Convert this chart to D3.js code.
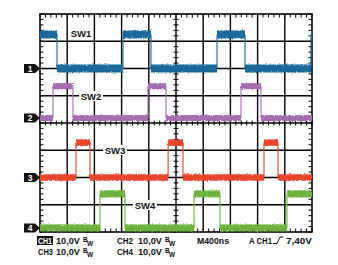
<!DOCTYPE html>
<html><head><meta charset="utf-8">
<script src="https://cdn.jsdelivr.net/npm/d3@7"></script>
<style>
html,body{margin:0;padding:0;background:#fff;}
svg{display:block;}
text{font-family:"Liberation Sans",Arial,sans-serif;font-weight:bold;}
</style></head>
<body>
<svg id="c" width="338" height="265"></svg>
<script>
// ---- data ----
const channelNames = ["SW1", "SW2", "SW3", "SW4"];
const channelNumbers = ["1", "2", "3", "4"];
const channelColors = ["#1b6b9b", "#a66db4", "#e8452c", "#6cb43f"];
const channelOffsetDiv = [2.0, 0.18, -2.0, -3.85];   // ground marker position (divisions)
const voltsPerDiv = [10, 10, 10, 10];
// waveform steps: [time ns, level V]
const sw1 = [[0, 12.5], [250, 0], [1220, 12.5], [1632, 0], [2603, 12.5], [3015, 0], [3985, 12.5]];
const sw2 = [[0, 0], [191, 11.7], [485, 0], [1588, 11.7], [1853, 0], [2956, 11.7], [3250, 0]];
const sw3 = [[0, 0], [529, 12.8], [735, 0], [1885, 12.8], [2103, 0], [3294, 12.8], [3500, 0]];
const sw4 = [[0, 0], [882, 12.5], [1250, 0], [2265, 12.5], [2647, 0], [3632, 12.5]];
const series = [sw1, sw2, sw3, sw4];
const timeDomain = [0, 4000];      // 10 div x 400 ns
const divDomain = [-4, 4];
const bottomLine1 = ["10,0V", "CH2", "10,0V", "M400ns", "A CH1", "7,40V"];
const bottomLine2 = ["CH3", "10,0V", "CH4", "10,0V"];

// ---- drawing ----
const svg = d3.select("#c");
const defs = svg.append("defs");
const f = defs.append("filter").attr("id", "fuzz").attr("x", "-2%").attr("y", "-60%").attr("width", "104%").attr("height", "220%");
f.append("feTurbulence").attr("type", "fractalNoise").attr("baseFrequency", "1.2 0.6").attr("numOctaves", 1).attr("seed", 4).attr("result", "n");
f.append("feDisplacementMap").attr("in", "SourceGraphic").attr("in2", "n").attr("scale", 3)
  .attr("xChannelSelector", "R").attr("yChannelSelector", "G");

const L = 40, R = 312, T = 14, B = 232;
const x = d3.scaleLinear().domain(timeDomain).range([L, R]);
const y = d3.scaleLinear().domain(divDomain).range([B, T]);

const g = svg.append("g");
// grid
const vDivs = d3.range(1, 10).map(i => timeDomain[0] + i * 400);
const hDivs = d3.range(-3, 4);
g.selectAll(".vg").data(vDivs).join("line")
  .attr("x1", d => x(d)).attr("x2", d => x(d)).attr("y1", T).attr("y2", B)
  .attr("stroke", "#000").attr("stroke-width", 1.4);
g.selectAll(".hg").data(hDivs).join("line")
  .attr("x1", L).attr("x2", R).attr("y1", d => y(d)).attr("y2", d => y(d))
  .attr("stroke", "#000").attr("stroke-width", 1.4);

// minor ticks
const tMinor = d3.range(0, 4001, 80);
const vMinor = d3.range(-4, 4.01, 0.2);
const tk = svg.append("g").attr("stroke", "#000").attr("stroke-width", 1);
tMinor.forEach(t => {
  tk.append("line").attr("x1", x(t)).attr("x2", x(t)).attr("y1", T).attr("y2", T + 3.5);
  tk.append("line").attr("x1", x(t)).attr("x2", x(t)).attr("y1", B).attr("y2", B - 3.5);
  tk.append("line").attr("x1", x(t)).attr("x2", x(t)).attr("y1", y(0) - 2.5).attr("y2", y(0) + 2.5);
});
vMinor.forEach(v => {
  tk.append("line").attr("x1", L).attr("x2", L + 3.5).attr("y1", y(v)).attr("y2", y(v));
  tk.append("line").attr("x1", R).attr("x2", R - 3.5).attr("y1", y(v)).attr("y2", y(v));
  tk.append("line").attr("x1", x(2000) - 2.5).attr("x2", x(2000) + 2.5).attr("y1", y(v)).attr("y2", y(v));
});
// border
svg.append("rect").attr("x", L).attr("y", T).attr("width", R - L).attr("height", B - T)
  .attr("fill", "none").attr("stroke", "#000").attr("stroke-width", 1.6);

// labels (white backgrounds over grid)
const labelPos = [[81, 33], [91, 96], [115, 150], [145, 205]];
channelNames.forEach((n, i) => {
  const [lx, ly] = labelPos[i];
  svg.append("rect").attr("x", lx - 12).attr("y", ly - 5).attr("width", 24).attr("height", 10).attr("fill", "#fff");
  svg.append("text").attr("x", lx).attr("y", ly + 3.5).attr("text-anchor", "middle")
    .attr("font-size", 9.5).attr("fill", "#111").text(n);
});

// traces
const bandW = [8, 6, 6.5, 7];
series.forEach((s, i) => {
  const col = channelColors[i];
  const lv = v => y(channelOffsetDiv[i] + v / voltsPerDiv[i]);
  const tg = svg.append("g");
  // transitions
  for (let k = 1; k < s.length; k++) {
    tg.append("line").attr("x1", x(s[k][0])).attr("x2", x(s[k][0]))
      .attr("y1", lv(s[k - 1][1])).attr("y2", lv(s[k][1]))
      .attr("stroke", col).attr("stroke-width", 1.6).attr("opacity", 0.7);
  }
  // levels
  const lg = tg.append("g").attr("filter", "url(#fuzz)");
  s.forEach((p, k) => {
    const t0 = p[0], t1 = k + 1 < s.length ? s[k + 1][0] : timeDomain[1];
    lg.append("rect").attr("x", x(t0)).attr("width", x(t1) - x(t0))
      .attr("y", lv(p[1]) - bandW[i] / 2).attr("height", bandW[i])
      .attr("fill", col);
  });
  // marker
  const my = y(channelOffsetDiv[i]);
  svg.append("path")
    .attr("d", `M24,${my - 4.5}H35L40,${my}L35,${my + 4.5}H24Z`).attr("fill", "#111");
  svg.append("text").attr("x", 30).attr("y", my + 3.3).attr("text-anchor", "middle")
    .attr("font-size", 8.5).attr("fill", "#fff").text(channelNumbers[i]);
});

// bottom info
const fs = 9;
const info = svg.append("g").attr("font-size", fs).attr("fill", "#111");
function vbw(xp, yp, txt) {
  info.append("text").attr("x", xp).attr("y", yp).attr("textLength", 24).attr("lengthAdjust", "spacingAndGlyphs").text(txt);
  info.append("text").attr("x", xp + 27).attr("y", yp - 2.5).attr("font-size", 6.5).text("B");
  info.append("text").attr("x", xp + 31).attr("y", yp + 2).attr("font-size", 6.5).text("W");
}
const y1 = 244, y2 = 255;
info.append("rect").attr("x", 37).attr("y", 236).attr("width", 16).attr("height", 9).attr("fill", "#111");
info.append("text").attr("x", 38).attr("y", y1).attr("fill", "#fff").attr("textLength", 14).attr("lengthAdjust", "spacingAndGlyphs").text("CH1");
vbw(56, y1, bottomLine1[0]);
info.append("text").attr("x", 117).attr("y", y1).attr("textLength", 16).attr("lengthAdjust", "spacingAndGlyphs").text(bottomLine1[1]);
vbw(138, y1, bottomLine1[2]);
info.append("text").attr("x", 197).attr("y", y1).attr("textLength", 32).attr("lengthAdjust", "spacingAndGlyphs").text(bottomLine1[3]);
info.append("text").attr("x", 249).attr("y", y1).attr("textLength", 23).attr("lengthAdjust", "spacingAndGlyphs").text(bottomLine1[4]);
info.append("path").attr("d", `M273,${y1 - 0.5}h4l3,-6.5h3`).attr("fill", "none").attr("stroke", "#111").attr("stroke-width", 1);
info.append("text").attr("x", 286).attr("y", y1).attr("textLength", 26).attr("lengthAdjust", "spacingAndGlyphs").text(bottomLine1[5]);
info.append("text").attr("x", 38).attr("y", y2).attr("textLength", 15).attr("lengthAdjust", "spacingAndGlyphs").text(bottomLine2[0]);
vbw(56, y2, bottomLine2[1]);
info.append("text").attr("x", 117).attr("y", y2).attr("textLength", 16).attr("lengthAdjust", "spacingAndGlyphs").text(bottomLine2[2]);
vbw(138, y2, bottomLine2[3]);
</script>
</body></html>
